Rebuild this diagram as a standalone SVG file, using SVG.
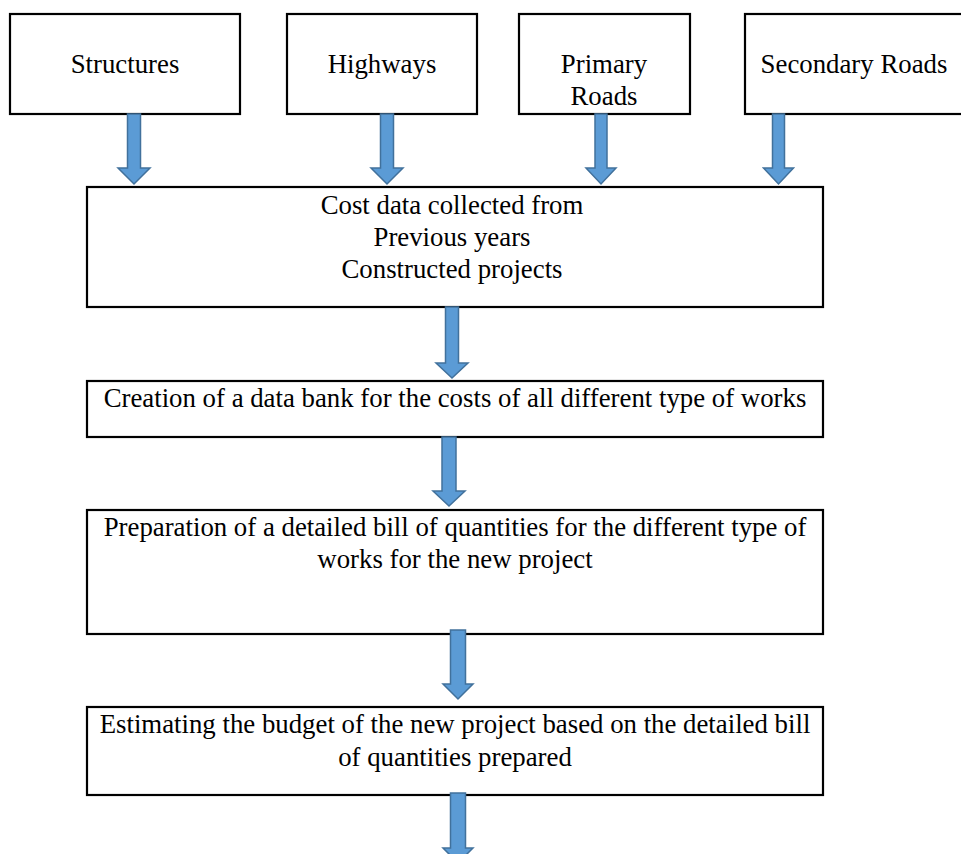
<svg xmlns="http://www.w3.org/2000/svg" width="961" height="854" viewBox="0 0 961 854">
<style>
.box{fill:#fff;stroke:#000;stroke-width:2.2}
.t{font-family:"Liberation Serif","Times New Roman",serif;font-size:26.8px;fill:#000;text-anchor:middle}
.arr{fill:#5B9BD5;stroke:#41719C;stroke-width:1.5;stroke-linejoin:miter}
</style>
<rect width="961" height="854" fill="#fff"/>
<g id="structures"><rect class="box" x="10" y="14" width="230" height="100"/><text class="t" x="125" y="73">Structures</text></g>
<g id="highways"><rect class="box" x="287" y="14" width="190" height="100"/><text class="t" x="382" y="73">Highways</text></g>
<g id="primary"><rect class="box" x="519" y="14" width="171" height="100"/><text class="t" x="604" y="73">Primary</text><text class="t" x="604" y="105">Roads</text></g>
<g id="secondary"><rect class="box" x="745" y="14" width="218" height="100"/><text class="t" x="854" y="73">Secondary Roads</text></g>
<g id="costdata"><rect class="box" x="87" y="187" width="736" height="120"/><text class="t" x="452" y="214">Cost data collected from</text><text class="t" x="452" y="246">Previous years</text><text class="t" x="452" y="278">Constructed projects</text></g>
<g id="databank"><rect class="box" x="87" y="381" width="736" height="56"/><text class="t" x="455" y="407">Creation of a data bank for the costs of all different type of works</text></g>
<g id="boq"><rect class="box" x="87" y="510" width="736" height="124"/><text class="t" x="455" y="536">Preparation of a detailed bill of quantities for the different type of</text><text class="t" x="455" y="568">works for the new project</text></g>
<g id="budget"><rect class="box" x="87" y="707" width="736" height="88"/><text class="t" x="455" y="733">Estimating the budget of the new project based on the detailed bill</text><text class="t" x="455" y="766">of quantities prepared</text></g>
<g id="connectors">
<path class="arr" d="M127.5,114 H140.5 V168 H150 L134,184 L118,168 H127.5 Z"/>
<path class="arr" d="M380.5,114 H393.5 V168 H403 L387,184 L371,168 H380.5 Z"/>
<path class="arr" d="M595,114 H607 V168 H616 L601,184 L586,168 H595 Z"/>
<path class="arr" d="M772.5,114 H784.5 V168 H793.5 L778.5,184 L763.5,168 H772.5 Z"/>
<path class="arr" d="M445.5,307 H458.5 V363 H468 L452,378 L436,363 H445.5 Z"/>
<path class="arr" d="M442,437 H456 V491 H465 L449,506 L433,491 H442 Z"/>
<path class="arr" d="M450.5,630 H465.5 V684 H473 L458,699 L443,684 H450.5 Z"/>
<path class="arr" d="M450.5,793 H465.5 V848 H473 L458,863 L443,848 H450.5 Z"/>
</g>
</svg>
